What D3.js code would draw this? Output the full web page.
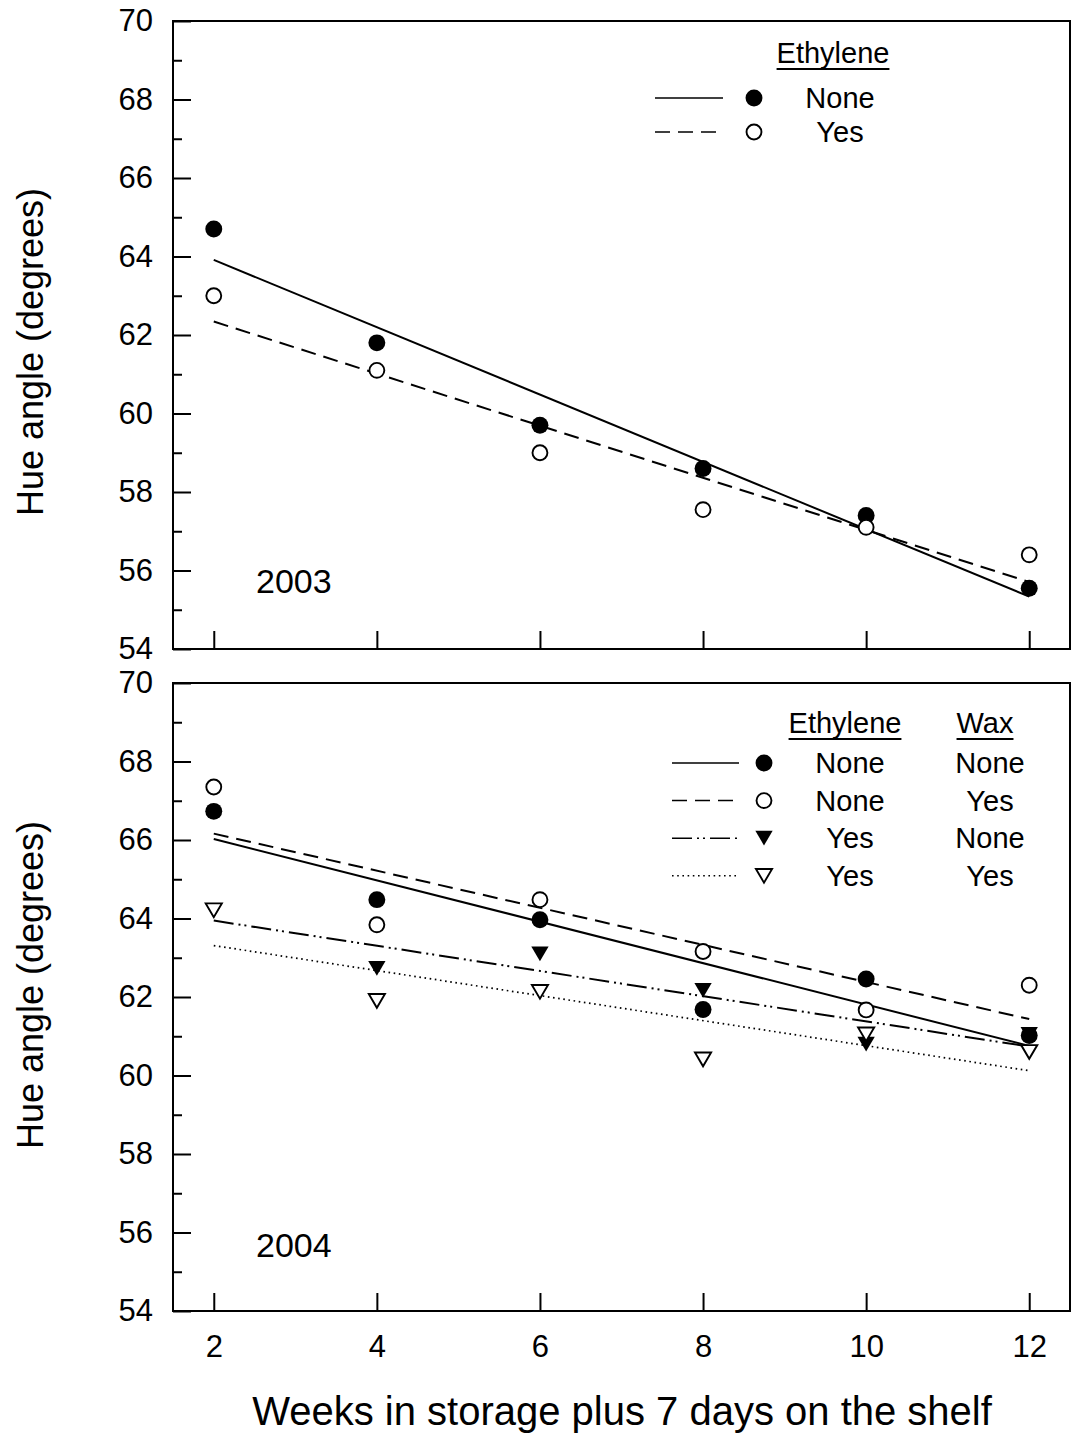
<!DOCTYPE html>
<html>
<head>
<meta charset="utf-8">
<script src="https://cdn.jsdelivr.net/npm/d3@7"></script>
<style>
  body { margin: 0; background: #fff; }
  text { font-family: "Liberation Sans", Arial, sans-serif; fill: #000; }
</style>
</head>
<body>
<svg id="chart" width="1073" height="1437"></svg>
<script>
// weeks in storage
const weeks = [2, 4, 6, 8, 10, 12];
const xTicks = [2, 4, 6, 8, 10, 12];
const yTicks = [54, 56, 58, 60, 62, 64, 66, 68, 70];
const yMinor = [55, 57, 59, 61, 63, 65, 67, 69];

// 2003, ethylene none / yes
const hue2003None = [64.7, 61.8, 59.7, 58.6, 57.4, 55.55];
const hue2003Yes = [63.0, 61.1, 59.0, 57.55, 57.1, 56.4];

// 2004, ethylene / wax
const hue2004NoneNone = [66.73, 64.48, 63.97, 61.68, 62.46, 61.02];
const hue2004NoneYes = [67.35, 63.84, 64.48, 63.16, 61.67, 62.3];
const hue2004YesNone = [64.2, 62.73, 63.1, 62.17, 60.8, 61.05];
const hue2004YesYes = [64.21, 61.9, 62.13, 60.41, 61.05, 60.6];

const legend2003 = [['solid', 'filled', 'None'], ['dash', 'open', 'Yes']];
const legend2004 = [
  ['solid', 'filled', 'None', 'None'],
  ['dash', 'open', 'None', 'Yes'],
  ['dashdot', 'filledTri', 'Yes', 'None'],
  ['dot', 'openTri', 'Yes', 'Yes']
];

const svg = d3.select('#chart');

const x = d3.scaleLinear().domain([1.5, 12.5]).range([173, 1070]);

const dashes = {
  solid: null,
  dash: '15,8',
  dashdot: '20,5,2,4,2,5',
  dot: '1.6,3.6'
};

// down-pointing triangle, centred on its box
const triDown = {
  draw(ctx, size) {
    const w = Math.sqrt(size);
    const h = w * 0.85;
    ctx.moveTo(-w / 2, -h / 2);
    ctx.lineTo(w / 2, -h / 2);
    ctx.lineTo(0, h / 2);
    ctx.closePath();
  }
};

function markerPath(kind) {
  if (kind === 'filled') return d3.symbol(d3.symbolCircle, 225)();
  if (kind === 'open') return d3.symbol(d3.symbolCircle, 175)();
  if (kind === 'filledTri') return d3.symbol(triDown, 300)();
  return d3.symbol(triDown, 260)();
}

function styleMarker(sel, kind) {
  const open = kind === 'open' || kind === 'openTri';
  sel.attr('d', markerPath(kind))
    .attr('fill', open ? '#fff' : '#000')
    .attr('stroke', open ? '#000' : 'none')
    .attr('stroke-width', 1.9);
}

function fit(xs, ys) {
  const mx = d3.mean(xs), my = d3.mean(ys);
  const b = d3.sum(xs, (v, i) => (v - mx) * (ys[i] - my)) / d3.sum(xs, v => (v - mx) ** 2);
  return v => my + b * (v - mx);
}

function drawPanel(y0, y1, showX, series, year, yearY, titleY) {
  const y = d3.scaleLinear().domain([54, 70]).range([y1, y0]);
  const g = svg.append('g');

  g.append('rect')
    .attr('x', x.range()[0]).attr('y', y0)
    .attr('width', x.range()[1] - x.range()[0])
    .attr('height', y1 - y0)
    .attr('fill', 'none').attr('stroke', '#000').attr('stroke-width', 2);

  const yAxis = g.append('g')
    .attr('transform', `translate(${x.range()[0]},0)`)
    .call(d3.axisLeft(y).tickValues(yTicks).tickSize(-18).tickPadding(20));
  yAxis.select('.domain').remove();
  yAxis.selectAll('line').attr('stroke-width', 2);
  yAxis.selectAll('text').style('font-size', '31px');

  const yMin = g.append('g')
    .attr('transform', `translate(${x.range()[0]},0)`)
    .call(d3.axisLeft(y).tickValues(yMinor).tickSize(-9).tickFormat(''));
  yMin.select('.domain').remove();
  yMin.selectAll('line').attr('stroke-width', 2);

  const xAxis = g.append('g')
    .attr('transform', `translate(0,${y1})`)
    .call(d3.axisBottom(x).tickValues(xTicks).tickSize(-18).tickPadding(24)
      .tickFormat(showX ? d3.format('d') : ''));
  xAxis.select('.domain').remove();
  xAxis.selectAll('line').attr('stroke-width', 2);
  xAxis.selectAll('text').style('font-size', '31px');

  // fitted lines
  series.forEach(s => {
    const f = fit(weeks, s.values);
    g.append('path')
      .datum([weeks[0], weeks[weeks.length - 1]])
      .attr('d', d3.line().x(d => x(d)).y(d => y(f(d))))
      .attr('fill', 'none')
      .attr('stroke', '#000')
      .attr('stroke-width', s.line === 'dot' ? 1.7 : 2)
      .attr('stroke-dasharray', dashes[s.line]);
  });

  // markers
  series.forEach(s => {
    g.append('g').selectAll('path')
      .data(weeks)
      .join('path')
      .attr('transform', (d, i) => `translate(${x(d)},${y(s.values[i])})`)
      .call(styleMarker, s.marker);
  });

  g.append('text')
    .attr('x', 256).attr('y', yearY)
    .style('font-size', '34px')
    .text(year);

  g.append('text')
    .attr('transform', `translate(43,${titleY}) rotate(-90)`)
    .attr('text-anchor', 'middle')
    .style('font-size', '36px')
    .text('Hue angle (degrees)');

  return g;
}

function legendRow(g, row, lineX0, lineX1, markX, yRow) {
  g.append('line')
    .attr('x1', lineX0).attr('x2', lineX1)
    .attr('y1', yRow).attr('y2', yRow)
    .attr('stroke', '#000')
    .attr('stroke-width', row[0] === 'dot' ? 1.6 : 1.5)
    .attr('stroke-dasharray', dashes[row[0]]);
  g.append('path')
    .attr('transform', `translate(${markX},${yRow})`)
    .call(styleMarker, row[1]);
}

function underlined(g, cx, base, label) {
  const t = g.append('text')
    .attr('x', cx).attr('y', base)
    .attr('text-anchor', 'middle')
    .style('font-size', '29px')
    .text(label);
  const w = t.node().getComputedTextLength();
  g.append('line')
    .attr('x1', cx - w / 2).attr('x2', cx + w / 2)
    .attr('y1', base + 6).attr('y2', base + 6)
    .attr('stroke', '#000').attr('stroke-width', 2);
}

// 2003 panel
const panel2003 = drawPanel(21, 649, false, [
  { values: hue2003None, line: 'solid', marker: 'filled' },
  { values: hue2003Yes, line: 'dash', marker: 'open' }
], '2003', 593, 352);

const lg1 = panel2003.append('g');
underlined(lg1, 833, 63, 'Ethylene');
legend2003.forEach((row, i) => {
  const yRow = 98 + i * 34;
  legendRow(lg1, row, 655, 723, 754, yRow);
  lg1.append('text')
    .attr('x', 840).attr('y', yRow + 10)
    .attr('text-anchor', 'middle')
    .style('font-size', '29px')
    .text(row[2]);
});

// 2004 panel
const panel2004 = drawPanel(683, 1311, true, [
  { values: hue2004NoneNone, line: 'solid', marker: 'filled' },
  { values: hue2004NoneYes, line: 'dash', marker: 'open' },
  { values: hue2004YesNone, line: 'dashdot', marker: 'filledTri' },
  { values: hue2004YesYes, line: 'dot', marker: 'openTri' }
], '2004', 1257, 985);

const lg2 = panel2004.append('g');
underlined(lg2, 845, 733, 'Ethylene');
underlined(lg2, 985, 733, 'Wax');
legend2004.forEach((row, i) => {
  const yRow = 763 + i * 37.6;
  legendRow(lg2, row, 672, 739, 764, yRow);
  lg2.append('text')
    .attr('x', 850).attr('y', yRow + 10)
    .attr('text-anchor', 'middle')
    .style('font-size', '29px')
    .text(row[2]);
  lg2.append('text')
    .attr('x', 990).attr('y', yRow + 10)
    .attr('text-anchor', 'middle')
    .style('font-size', '29px')
    .text(row[3]);
});

svg.append('text')
  .attr('x', 622).attr('y', 1425)
  .attr('text-anchor', 'middle')
  .style('font-size', '40px')
  .text('Weeks in storage plus 7 days on the shelf');
</script>
</body>
</html>
